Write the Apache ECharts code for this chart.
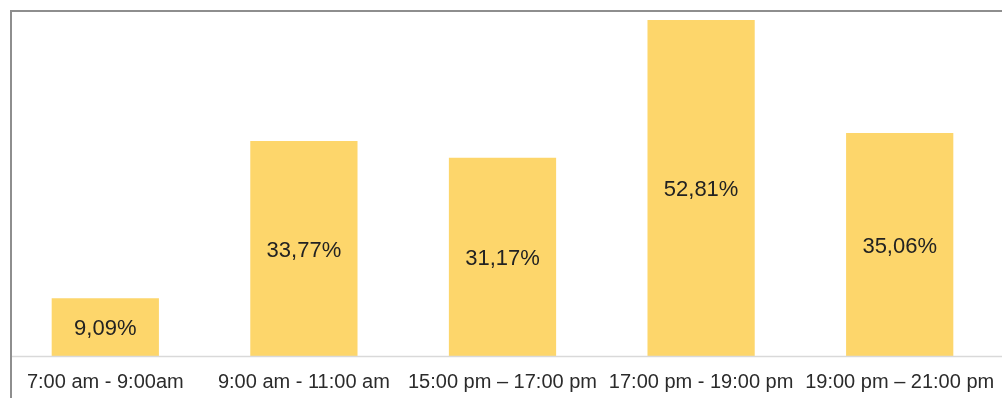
<!DOCTYPE html>
<html>
<head>
<meta charset="utf-8">
<script src="https://cdn.jsdelivr.net/npm/echarts@6/dist/echarts.min.js"></script>
<style>
  html, body { margin: 0; padding: 0; background: #ffffff; }
  #chart { width: 1002px; height: 398px; }
</style>
</head>
<body>
<div id="chart"></div>
<script>
// Time slots and share of activity in each slot (percent)
const categories = [
  '7:00 am - 9:00am',
  '9:00 am - 11:00 am',
  '15:00 pm \u2013 17:00 pm',
  '17:00 pm - 19:00 pm',
  '19:00 pm \u2013 21:00 pm'
];
const shares = [9.09, 33.77, 31.17, 52.81, 35.06];

const fontFamily = 'Liberation Sans, Arial, sans-serif';

const chart = echarts.init(document.getElementById('chart'), null, { renderer: 'canvas' });

chart.setOption({
  animation: false,
  backgroundColor: '#ffffff',
  grid: { left: 6, right: 3, top: 6, bottom: 42, containLabel: false },
  xAxis: {
    type: 'category',
    data: categories,
    axisLine: { show: false },
    axisTick: { show: false },
    axisLabel: {
      interval: 0,
      margin: 16,
      color: '#2b2b2b',
      fontSize: 20,
      fontFamily: fontFamily
    }
  },
  yAxis: {
    type: 'value',
    min: 0,
    max: 55,
    show: false,
    splitLine: { show: false }
  },
  series: [{
    type: 'bar',
    data: shares,
    barWidth: '54%',
    itemStyle: { color: '#fdd66b' },
    label: {
      show: true,
      position: 'inside',
      offset: [0, 2],
      color: '#222222',
      fontSize: 22,
      fontFamily: fontFamily,
      formatter: p => p.value.toFixed(2).replace('.', ',') + '%'
    }
  }],
  graphic: [
    // baseline under the bars
    {
      type: 'line',
      shape: { x1: 12, y1: 356.5, x2: 1002, y2: 356.5 },
      style: { stroke: '#d9d9d9', lineWidth: 1.5 },
      z: 10
    },
    // outer frame (top and left edges visible)
    {
      type: 'rect',
      shape: { x: 11, y: 11, width: 1000, height: 400 },
      style: { fill: 'none', stroke: '#8e8e8e', lineWidth: 2 },
      z: 10
    }
  ]
});
</script>
</body>
</html>
